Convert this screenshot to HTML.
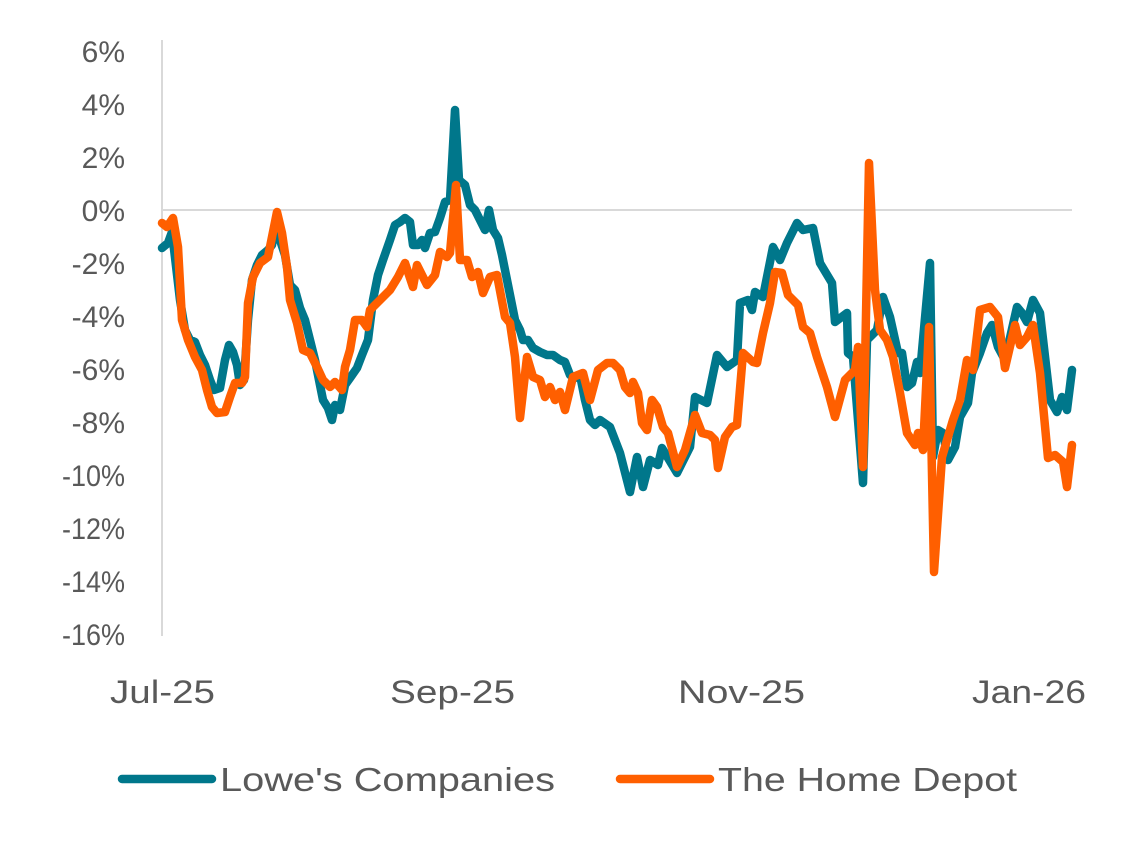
<!DOCTYPE html>
<html><head><meta charset="utf-8"><style>
html,body{margin:0;padding:0;background:#fff;}
svg text{font-family:"Liberation Sans",Arial,sans-serif;fill:#595959;}
</style></head><body>
<svg width="1132" height="852" viewBox="0 0 1132 852" xmlns="http://www.w3.org/2000/svg">
<rect width="1132" height="852" fill="#fff"/>
<line x1="162" y1="210" x2="1072" y2="210" stroke="#d9d9d9" stroke-width="2"/>
<line x1="162" y1="40" x2="162" y2="636" stroke="#d9d9d9" stroke-width="2"/>
<g font-size="30" text-anchor="end">
<text x="125" y="62">6%</text>
<text x="125" y="115">4%</text>
<text x="125" y="168">2%</text>
<text x="125" y="221">0%</text>
<text x="125" y="274">-2%</text>
<text x="125" y="327">-4%</text>
<text x="125" y="380">-6%</text>
<text x="125" y="433">-8%</text>
<text x="125" y="486" textLength="63" lengthAdjust="spacingAndGlyphs">-10%</text>
<text x="125" y="539" textLength="63" lengthAdjust="spacingAndGlyphs">-12%</text>
<text x="125" y="592" textLength="63" lengthAdjust="spacingAndGlyphs">-14%</text>
<text x="125" y="645" textLength="63" lengthAdjust="spacingAndGlyphs">-16%</text>
</g>
<g font-size="32">
<text x="110" y="703" textLength="105" lengthAdjust="spacingAndGlyphs">Jul-25</text>
<text x="390" y="703" textLength="125" lengthAdjust="spacingAndGlyphs">Sep-25</text>
<text x="678" y="703" textLength="127" lengthAdjust="spacingAndGlyphs">Nov-25</text>
<text x="972" y="703" textLength="114" lengthAdjust="spacingAndGlyphs">Jan-26</text>
</g>
<g fill="none" stroke-width="8.5" stroke-linejoin="round" stroke-linecap="round">
<polyline stroke="#00778B" points="162,248 168,243 172,232 180,300 185,330 190,340 195,342 200,355 205,365 210,380 214,390 220,388 225,360 229,345 233,352 237,365 240,385 244,380 248,320 252,280 257,265 262,255 268,250 272,245 275,225 280,240 285,255 290,285 295,290 300,308 305,320 310,340 315,360 320,385 323,400 328,408 332,420 335,405 340,410 345,385 350,378 357,368 362,355 368,340 373,300 378,275 383,260 390,240 395,225 400,222 405,218 410,222 413,245 418,245 422,240 425,248 430,233 435,232 440,218 445,202 450,200 455,110 459,180 465,185 470,205 475,210 480,220 485,230 489,210 493,230 498,238 502,255 508,285 515,320 520,330 523,340 528,340 533,348 540,352 547,355 553,355 560,360 565,362 570,375 575,378 580,375 585,400 590,420 595,425 600,420 610,427 620,453 630,492 637,457 643,487 650,460 658,465 662,448 677,473 690,447 695,397 707,403 717,355 727,367 737,360 740,303 748,300 752,310 755,292 763,297 773,247 780,260 787,243 797,223 803,230 813,228 820,263 832,283 835,322 847,313 848,353 853,357 863,483 867,340 877,330 883,297 890,317 898,353 902,353 907,387 912,383 917,362 920,373 930,263 933,457 938,430 943,433 948,460 955,447 960,417 968,403 972,373 980,353 987,333 992,325 998,347 1005,360 1017,307 1022,313 1027,322 1033,300 1040,313 1050,400 1057,412 1062,397 1067,410 1072,370"/>
<polyline stroke="#FF5F00" points="162,223 167,227 173,218 178,247 182,320 188,340 195,357 202,370 207,390 212,407 217,413 225,412 230,397 235,383 242,383 245,377 248,303 253,277 260,263 268,257 272,237 277,212 282,233 287,267 290,300 297,323 303,350 310,353 317,367 323,380 330,387 335,382 342,390 345,367 350,350 355,320 362,320 367,327 370,310 380,300 390,290 398,277 405,263 413,287 417,265 427,285 435,275 440,252 447,257 450,253 456,185 460,260 467,260 472,277 478,272 483,293 490,277 497,275 505,317 510,323 515,357 520,418 527,357 533,377 540,380 545,397 550,387 555,400 560,392 565,410 573,377 583,373 590,400 598,370 607,363 613,363 620,370 625,387 630,393 633,382 638,393 642,423 647,430 652,400 657,407 663,427 668,433 677,467 685,450 695,415 702,433 710,435 715,440 718,468 725,437 732,427 737,425 743,353 753,362 757,363 763,333 770,303 775,272 782,273 788,295 798,305 803,327 810,333 817,357 827,387 835,417 845,380 855,370 858,347 863,467 869,163 875,290 880,330 887,340 893,357 900,393 907,433 915,445 918,433 923,450 929,327 934,572 942,457 953,420 960,400 967,360 973,370 980,310 990,307 998,317 1005,368 1015,325 1020,345 1027,337 1033,325 1040,373 1048,458 1055,455 1063,462 1067,487 1072,445"/>
</g>
<line x1="122" y1="779" x2="212" y2="779" stroke="#00778B" stroke-width="8.5" stroke-linecap="round"/>
<text x="220" y="791" font-size="33" textLength="335" lengthAdjust="spacingAndGlyphs">Lowe's Companies</text>
<line x1="620" y1="779" x2="710" y2="779" stroke="#FF5F00" stroke-width="8.5" stroke-linecap="round"/>
<text x="718" y="791" font-size="33" textLength="299" lengthAdjust="spacingAndGlyphs">The Home Depot</text>
</svg>
</body></html>
